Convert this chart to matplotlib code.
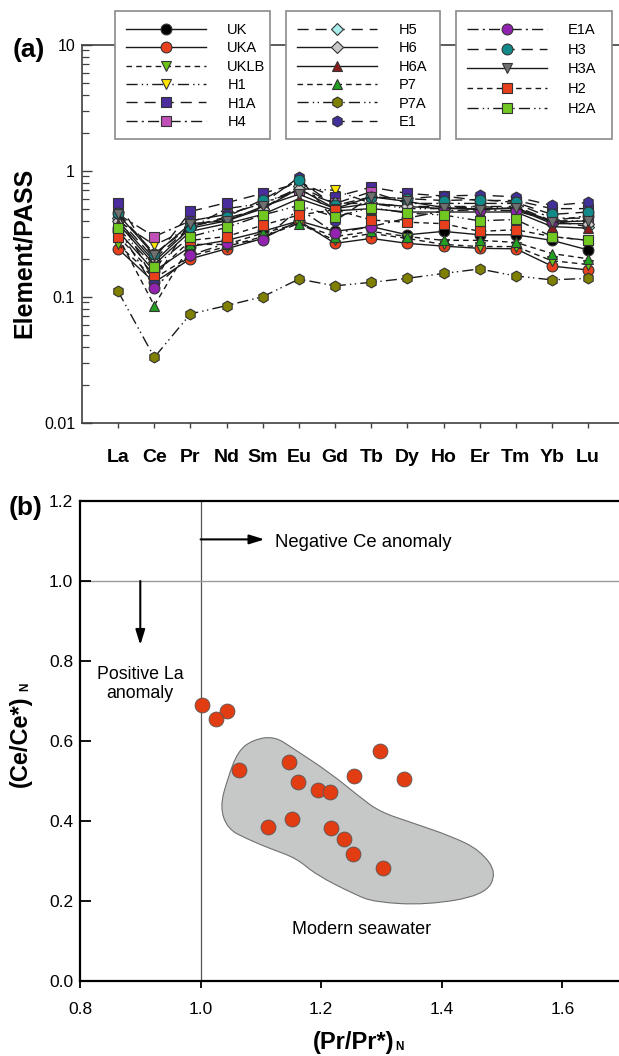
import matplotlib
matplotlib.use('Agg')
import matplotlib.pyplot as plt
from matplotlib.patches import Rectangle, PathPatch
from matplotlib.path import Path
from matplotlib.ticker import LogLocator, NullFormatter

plt.rcParams['font.family'] = ['Liberation Sans', 'DejaVu Sans']

# ---------------- data ----------------
elements = ['La', 'Ce', 'Pr', 'Nd', 'Sm', 'Eu', 'Gd', 'Tb', 'Dy', 'Ho', 'Er', 'Tm', 'Yb', 'Lu']

UK = [0.33, 0.16, 0.25, 0.28, 0.33, 0.40, 0.33, 0.36, 0.31, 0.33, 0.31, 0.31, 0.28, 0.235]
UKA = [0.24, 0.13, 0.20, 0.24, 0.29, 0.40, 0.265, 0.29, 0.265, 0.252, 0.242, 0.24, 0.175, 0.163]
UKLB = [0.26, 0.14, 0.21, 0.25, 0.30, 0.38, 0.28, 0.318, 0.29, 0.26, 0.25, 0.25, 0.193, 0.18]
H1 = [0.40, 0.257, 0.35, 0.50, 0.55, 0.72, 0.70, 0.55, 0.50, 0.50, 0.52, 0.50, 0.40, 0.40]
H1A = [0.55, 0.20, 0.475, 0.557, 0.66, 0.80, 0.62, 0.74, 0.66, 0.63, 0.58, 0.58, 0.50, 0.50]
H4 = [0.45, 0.30, 0.40, 0.45, 0.55, 0.70, 0.55, 0.68, 0.55, 0.55, 0.55, 0.55, 0.42, 0.42]
H5 = [0.42, 0.20, 0.36, 0.42, 0.50, 0.75, 0.55, 0.55, 0.52, 0.52, 0.52, 0.52, 0.40, 0.36]
H6 = [0.40, 0.19, 0.35, 0.40, 0.50, 0.72, 0.50, 0.55, 0.52, 0.50, 0.50, 0.50, 0.38, 0.38]
H6A = [0.38, 0.18, 0.33, 0.38, 0.45, 0.60, 0.48, 0.50, 0.47, 0.47, 0.47, 0.47, 0.36, 0.35]
P7 = [0.30, 0.085, 0.26, 0.26, 0.32, 0.38, 0.30, 0.33, 0.30, 0.28, 0.28, 0.27, 0.22, 0.20]
P7A = [0.11, 0.033, 0.073, 0.085, 0.10, 0.138, 0.122, 0.13, 0.14, 0.153, 0.166, 0.146, 0.136, 0.14]
E1 = [0.45, 0.132, 0.40, 0.45, 0.55, 0.886, 0.40, 0.62, 0.60, 0.63, 0.64, 0.62, 0.53, 0.56]
E1A = [0.35, 0.118, 0.214, 0.265, 0.28, 0.50, 0.32, 0.36, 0.42, 0.48, 0.49, 0.48, 0.40, 0.44]
H3 = [0.46, 0.22, 0.36, 0.43, 0.59, 0.84, 0.53, 0.62, 0.60, 0.58, 0.59, 0.56, 0.45, 0.47]
H3A = [0.45, 0.214, 0.38, 0.40, 0.52, 0.65, 0.50, 0.62, 0.57, 0.51, 0.49, 0.51, 0.39, 0.40]
H2 = [0.30, 0.15, 0.28, 0.30, 0.37, 0.445, 0.49, 0.406, 0.39, 0.38, 0.33, 0.34, 0.30, 0.28]
H2A = [0.35, 0.173, 0.30, 0.355, 0.445, 0.53, 0.43, 0.51, 0.46, 0.445, 0.40, 0.41, 0.30, 0.28]

sample_names = ['UK', 'UKA', 'UKLB', 'H1', 'H1A', 'H4', 'H5', 'H6', 'H6A', 'P7', 'P7A', 'E1',
                'E1A', 'H3', 'H3A', 'H2', 'H2A']
sample_values = [UK, UKA, UKLB, H1, H1A, H4, H5, H6, H6A, P7, P7A, E1, E1A, H3, H3A, H2, H2A]

# panel (b)
pr_anom = [1.002, 1.043, 1.026, 1.064, 1.146, 1.162, 1.194, 1.214, 1.255, 1.298, 1.337,
           1.111, 1.151, 1.216, 1.238, 1.252, 1.303]
ce_anom = [0.689, 0.676, 0.655, 0.528, 0.547, 0.497, 0.478, 0.473, 0.512, 0.575, 0.506,
           0.384, 0.405, 0.383, 0.355, 0.318, 0.283]

# outline of the modern seawater field (control points)
seawater_x = [1.122, 1.153, 1.215, 1.264, 1.297, 1.352, 1.419, 1.463, 1.492, 1.470, 1.374,
              1.289, 1.256, 1.191, 1.159, 1.115, 1.076, 1.045, 1.032, 1.045, 1.062, 1.087]
seawater_y = [0.612, 0.582, 0.520, 0.460, 0.423, 0.395, 0.360, 0.327, 0.270, 0.214, 0.190,
              0.197, 0.216, 0.266, 0.307, 0.331, 0.356, 0.380, 0.435, 0.507, 0.575, 0.603]

# ---------------- styles ----------------
solid = '-'
dash = (0, (4, 3))
longdash = (0, (8, 5))
dashdot = (0, (8, 3, 1.5, 3))
dashdotdot = (0, (8, 3, 1, 2.5, 1, 3))

styles = {
    'UK': ('o', '#000000', solid),
    'UKA': ('o', '#e8401c', solid),
    'UKLB': ('v', '#6cc417', dash),
    'H1': ('v', '#ffe600', dashdotdot),
    'H1A': ('s', '#4a2c9c', longdash),
    'H4': ('s', '#c050b8', dashdot),
    'H5': ('D', '#a8ecec', longdash),
    'H6': ('D', '#c8c8c8', solid),
    'H6A': ('^', '#8b1c1c', solid),
    'P7': ('^', '#22a022', dash),
    'P7A': ('h', '#808000', dashdotdot),
    'E1': ('h', '#40309a', longdash),
    'E1A': ('o', '#9222b0', dashdot),
    'H3': ('o', '#138a8a', longdash),
    'H3A': ('v', '#707070', solid),
    'H2': ('s', '#e8401c', dash),
    'H2A': ('s', '#70c820', dashdotdot),
}

W, H = 619, 1056


def fx(px):
    return px / W


def fy(py):
    return 1 - py / H


fig = plt.figure(figsize=(W / 100, H / 100), dpi=100)

# ---------------- panel (a) ----------------
ax1 = fig.add_axes([fx(82), fy(422.7), 1 - fx(82), (422.7 - 44.7) / H])
xpos = list(range(1, len(elements) + 1))
handles = []
for name, vals in zip(sample_names, sample_values):
    mk, col, ls = styles[name]
    ms = 6.5 if mk == 'D' else 7.8
    line, = ax1.plot(xpos, vals, linestyle=ls, color='#1a1a1a', lw=1.0, marker=mk,
                     markersize=ms, markerfacecolor=col, markeredgecolor='#333333',
                     markeredgewidth=0.8, label=name)
    handles.append(line)

ax1.set_yscale('log')
ax1.set_ylim(0.01, 10)
ax1.set_xlim(0, (619 - 82) / 36.15)
ax1.set_yticks([0.01, 0.1, 1, 10])
ax1.set_yticklabels(['0.01', '0.1', '1', '10'])
ax1.yaxis.set_minor_locator(LogLocator(base=10, subs=range(2, 10)))
ax1.yaxis.set_minor_formatter(NullFormatter())
ax1.set_xticks(xpos)
ax1.set_xticklabels(elements, fontweight='bold', fontsize=14)
ax1.tick_params(axis='x', direction='out', length=3.6, width=1, pad=15, color='#404040')
ax1.tick_params(axis='y', which='major', direction='in', length=7, width=1, pad=5,
                labelsize=11.5, color='#404040')
ax1.tick_params(axis='y', which='minor', direction='in', length=5, width=0.9, color='#404040')
for s in ['left', 'top', 'bottom']:
    ax1.spines[s].set_color('#404040')
    ax1.spines[s].set_linewidth(1.2)
ax1.spines['right'].set_visible(False)

fig.text(fx(23.5), fy(252.5), 'Element/PASS', rotation=90, ha='center', va='center',
         fontsize=18, fontweight='bold')
fig.text(fx(29), fy(50), '(a)', ha='center', va='center', fontsize=19, fontweight='bold')

# legend boxes
boxes = [(115, 270), (286, 440), (456, 612)]
for x0, x1 in boxes:
    fig.add_artist(Rectangle((fx(x0), fy(139)), fx(x1) - fx(x0), (139 - 11) / H,
                             transform=fig.transFigure, facecolor='white',
                             edgecolor='#8a8a8a', lw=1.2, zorder=3))

groups = [(0, 6, 126, 0.30), (6, 12, 297, 0.30), (12, 17, 466.6, 0.39)]
for i0, i1, hx, lsp in groups:
    fig.legend(handles[i0:i1], sample_names[i0:i1], loc='upper left',
               bbox_to_anchor=(fx(hx), fy(23)), frameon=False, borderpad=0,
               borderaxespad=0, handlelength=5.5, handletextpad=1.45,
               labelspacing=lsp, fontsize=10.5)

# ---------------- panel (b) ----------------
ax2 = fig.add_axes([fx(80), fy(981), 1 - fx(80), 480 / H])
ax2.set_xlim(0.8, 0.8 + (619 - 80) / 603)
ax2.set_ylim(0, 1.2)

ax2.axvline(1.0, color='#555555', lw=0.9, zorder=1)
ax2.axhline(1.0, color='#999999', lw=1.0, zorder=1)

# smooth closed outline: quadratic curves through midpoints of the control polygon
pts = list(zip(seawater_x, seawater_y))
n = len(pts)
mids = [((pts[i][0] + pts[(i + 1) % n][0]) / 2, (pts[i][1] + pts[(i + 1) % n][1]) / 2)
        for i in range(n)]
verts = [mids[-1]]
codes = [Path.MOVETO]
for i in range(n):
    verts += [pts[i], mids[i]]
    codes += [Path.CURVE3, Path.CURVE3]
verts.append(mids[-1])
codes.append(Path.CLOSEPOLY)
ax2.add_patch(PathPatch(Path(verts, codes), facecolor='#c6c8c8', edgecolor='#707070',
                        lw=0.8, zorder=2))

ax2.scatter(pr_anom, ce_anom, s=115, color='#e23d12', edgecolor='#555555', lw=0.6, zorder=3)

arrow = dict(arrowstyle='-|>,head_length=0.9,head_width=0.28', mutation_scale=10,
             color='black', lw=1.5, shrinkA=0, shrinkB=0)
ax2.annotate('', xy=(1.106, 1.104), xytext=(1.0, 1.104), arrowprops=arrow)
ax2.annotate('', xy=(0.9, 0.84), xytext=(0.9, 1.0), arrowprops=arrow)
ax2.text(1.123, 1.096, 'Negative Ce anomaly', ha='left', va='center', fontsize=13.3)
ax2.text(0.9, 0.743, 'Positive La\nanomaly', ha='center', va='center', fontsize=12.8,
         linespacing=1.15, multialignment='center')
ax2.text(1.267, 0.1275, 'Modern seawater', ha='center', va='center', fontsize=13)

ax2.set_xticks([0.8, 1.0, 1.2, 1.4, 1.6])
ax2.set_xticklabels(['0.8', '1.0', '1.2', '1.4', '1.6'], fontsize=12.5)
ax2.set_yticks([0.0, 0.2, 0.4, 0.6, 0.8, 1.0, 1.2])
ax2.set_yticklabels(['0.0', '0.2', '0.4', '0.6', '0.8', '1.0', '1.2'], fontsize=12.5)
ax2.tick_params(axis='x', direction='out', length=4.8, width=1.3, pad=10)
ax2.tick_params(axis='y', direction='in', length=7.7, width=1.3, pad=5)
for s in ['left', 'top', 'bottom']:
    ax2.spines[s].set_linewidth(1.6)
ax2.spines['right'].set_visible(False)

ylab = fig.text(fx(20), fy(741), '(Ce/Ce*)', rotation=90, ha='center', va='center',
                fontsize=17, fontweight='bold')
ax2.annotate('N', xy=(1.0, 1.0), xycoords=ylab, xytext=(0, 3), textcoords='offset points',
             rotation=90, ha='right', va='bottom', fontsize=8.5, fontweight='bold',
             annotation_clip=False)
xlab = fig.text(fx(353.5), fy(1042), '(Pr/Pr*)', ha='center', va='center',
                fontsize=17, fontweight='bold')
ax2.annotate('N', xy=(1.0, 0.0), xycoords=xlab, xytext=(0.5, 0), textcoords='offset points',
             ha='left', va='bottom', fontsize=8.5, fontweight='bold', annotation_clip=False)
fig.text(fx(26), fy(508), '(b)', ha='center', va='center', fontsize=19, fontweight='bold')

fig.savefig('out.png', dpi=100)
